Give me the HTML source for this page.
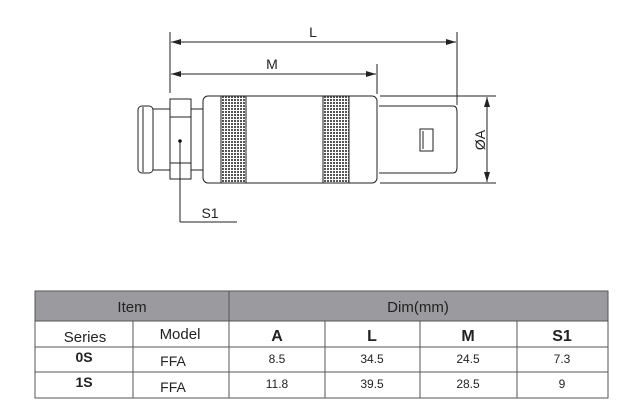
<html><body style="margin:0;background:#fff">
<svg width="638" height="402" xmlns="http://www.w3.org/2000/svg" style="display:block;font-family:'Liberation Sans',sans-serif">
<defs>
<pattern id="k" width="3" height="3" patternUnits="userSpaceOnUse"><rect width="3" height="3" fill="#fff"/><rect width="2" height="2" fill="#555"/></pattern>
<marker id="a" markerWidth="10" markerHeight="6" refX="10" refY="3" orient="auto-start-reverse" markerUnits="userSpaceOnUse"><path d="M0,0 L10,3 L0,6z" fill="#222"/></marker>
</defs>
<g stroke="#222" stroke-width="1" fill="none">
<line x1="170" y1="32" x2="170" y2="93"/><line x1="457" y1="32" x2="457" y2="105"/><line x1="377" y1="64" x2="377" y2="94"/>
<line x1="171" y1="42" x2="456" y2="42" marker-start="url(#a)" marker-end="url(#a)"/>
<line x1="171" y1="74" x2="376" y2="74" marker-start="url(#a)" marker-end="url(#a)"/>
<line x1="380" y1="96" x2="496" y2="96"/><line x1="380" y1="183" x2="496" y2="183"/>
<line x1="487" y1="97" x2="487" y2="182" marker-start="url(#a)" marker-end="url(#a)"/>
<rect x="138" y="106" width="15" height="67" rx="4" fill="#fff"/>
<line x1="143" y1="107" x2="143" y2="172"/>
<rect x="153" y="109" width="17" height="61" fill="#fff"/>
<rect x="170" y="99" width="21" height="80" fill="#fff"/>
<line x1="170" y1="117" x2="191" y2="117"/><line x1="170" y1="163" x2="191" y2="163"/>
<rect x="191" y="109" width="13" height="61" fill="#fff"/>
<rect x="203" y="96" width="174" height="87" rx="5" fill="#fff"/>
<rect x="221" y="96" width="25" height="87" fill="url(#k)"/>
<rect x="323" y="96" width="26" height="87" fill="url(#k)"/>
<line x1="221" y1="96" x2="221" y2="183"/><line x1="246" y1="96" x2="246" y2="183"/>
<line x1="323" y1="96" x2="323" y2="183"/><line x1="349" y1="96" x2="349" y2="183"/>
<path d="M379,106 H453 Q457,106 457,112 V167 Q457,173 453,173 H379" fill="#fff"/>
<rect x="420" y="129" width="13" height="22"/><line x1="423" y1="131" x2="423" y2="149"/>
<line x1="180" y1="141" x2="180" y2="222"/><line x1="180" y1="222" x2="237" y2="222"/>
</g>
<circle cx="180" cy="141" r="1.8" fill="#111"/>
<g font-size="14" fill="#222" text-anchor="middle">
<text x="313" y="37">L</text><text x="272" y="69">M</text><text x="210" y="218">S1</text>
<text transform="translate(485,140) rotate(-90)">ØA</text>
</g>
<rect x="35" y="291" width="573" height="30" fill="#9a9a9f"/>
<g stroke="#555" stroke-width="1" fill="none">
<rect x="35" y="291" width="573" height="107"/>
<line x1="35" y1="321" x2="608" y2="321"/><line x1="35" y1="347" x2="608" y2="347"/><line x1="35" y1="372" x2="608" y2="372"/>
<line x1="229" y1="291" x2="229" y2="398"/><line x1="133" y1="321" x2="133" y2="398"/>
<line x1="325" y1="321" x2="325" y2="398"/><line x1="420" y1="321" x2="420" y2="398"/><line x1="517" y1="321" x2="517" y2="398"/>
</g>
<g fill="#222" text-anchor="middle" font-size="15">
<text x="132" y="312">Item</text><text x="418" y="312">Dim(mm)</text>
<text x="85" y="342">Series</text><text x="180" y="339">Model</text>
<g font-weight="bold" font-size="16"><text x="277" y="341">A</text><text x="372" y="341">L</text><text x="468" y="341">M</text><text x="562" y="341">S1</text></g>
<text x="84" y="362" font-weight="bold" font-size="14">0S</text><text x="84" y="387" font-weight="bold" font-size="14">1S</text>
<text x="173" y="366" font-size="14">FFA</text><text x="173" y="392" font-size="14">FFA</text>
<g font-size="12"><text x="277" y="363">8.5</text><text x="372" y="363">34.5</text><text x="468" y="363">24.5</text><text x="562" y="363">7.3</text>
<text x="277" y="388">11.8</text><text x="372" y="388">39.5</text><text x="468" y="388">28.5</text><text x="562" y="388">9</text></g>
</g>
</svg>
</body></html>
